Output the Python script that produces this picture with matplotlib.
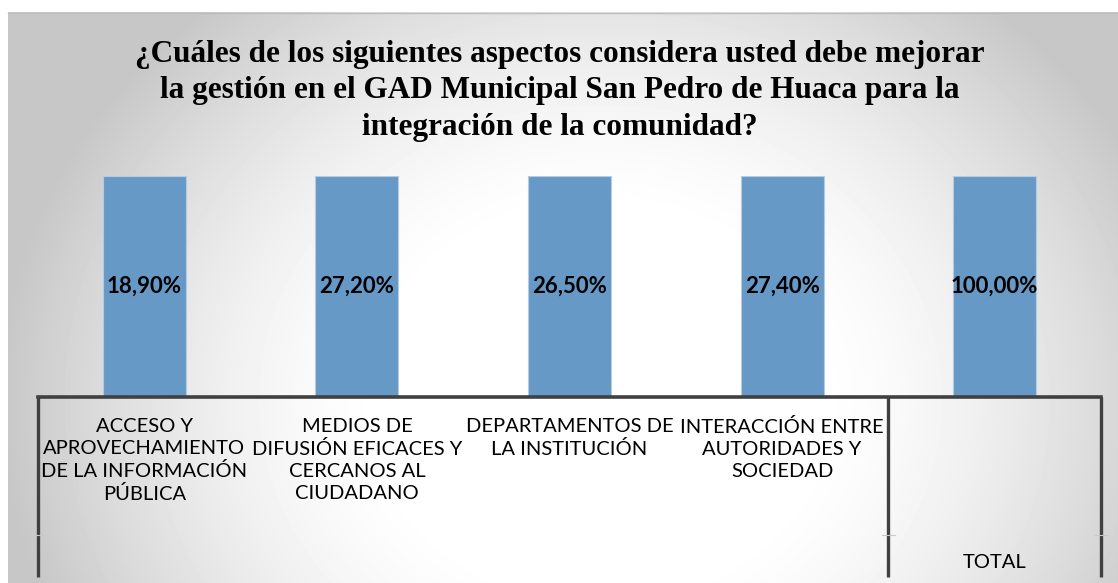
import numpy as np
import matplotlib.pyplot as plt
import matplotlib.transforms as mtransforms

# data
categories = ['ACCESO Y\nAPROVECHAMIENTO\nDE LA INFORMACIÓN\nPÚBLICA',
              'MEDIOS DE\nDIFUSIÓN EFICACES Y\nCERCANOS AL\nCIUDADANO',
              'DEPARTAMENTOS DE\nLA INSTITUCIÓN',
              'INTERACCIÓN ENTRE\nAUTORIDADES Y\nSOCIEDAD',
              '']
groups = ['', 'TOTAL']          # outer level of the category axis
group_sizes = [4, 1]
values = [18.9, 27.2, 26.5, 27.4, 100.0]

title = ('¿Cuáles de los siguientes aspectos considera usted debe mejorar\n'
         'la gestión en el GAD Municipal San Pedro de Huaca para la\n'
         'integración de la comunidad?')

W, H = 1118, 583
BAR = '#6799c7'

def fx(px):
    return px / W

def fy(py):
    return 1 - py / H

fig = plt.figure(figsize=(W / 100, H / 100), dpi=100)

# chart area background: soft radial grey gradient, white in the middle
bg = fig.add_axes([0, 0, 1, 1])
bg.set_xlim(0, W)
bg.set_ylim(H, 0)
bg.axis('off')
yy, xx = np.mgrid[12:H, 8:W]
r = np.hypot((xx - 600) / 600, (yy - 400) / 520)
t = np.clip((r - 0.35) / 0.65, 0, 1) ** 1.5
shade = 1 - 0.22 * t
bg.imshow(shade, cmap='gray', vmin=0, vmax=1, extent=(8, W, H, 12),
          aspect='auto', interpolation='bilinear')
bg.plot([8, W], [12.5, 12.5], color='#bdbdbd', lw=1)

fig.text(fx(560), fy(91), title, ha='center', va='center',
         family='Liberation Serif', weight='bold', fontsize=22.5,
         linespacing=1.33)

left, right, top, bottom = 38, 1101, 176, 397
ax = fig.add_axes([fx(left), fy(bottom), fx(right - left), (bottom - top) / H])
ax.patch.set_alpha(0)

# 100% stacked column with one series: every column is full height
x = np.arange(len(values))
shares = [v / v * 100 for v in values]
ax.bar(x, shares, width=0.39, color=BAR, edgecolor='#b3cbe3', linewidth=0.8)
for xi, v in zip(x, values):
    lab = f'{v:.2f}%'.replace('.', ',')
    ax.text(xi, 50, lab, ha='center', va='center', family='Lato',
            weight='bold', fontsize=16, color='black')

ax.set_xlim(-0.5, len(values) - 0.5)
ax.set_ylim(0, 100)
ax.set_yticks([])
for s in ['top', 'left', 'right']:
    ax.spines[s].set_visible(False)
ax.spines['bottom'].set_color('#404040')
ax.spines['bottom'].set_linewidth(2.6)
ax.set_xticks(x)
ax.set_xticklabels(categories, family='Lato', fontsize=14.5,
                   linespacing=1.35, multialignment='center')
ax.tick_params(axis='x', length=0, pad=15)

# outer level of the category axis
trans = mtransforms.blended_transform_factory(ax.transData, ax.transAxes)
depth = -(577 - bottom) / (bottom - top)
split = -(535 - bottom) / (bottom - top)
edges = np.concatenate([[0], np.cumsum(group_sizes)]) - 0.5
for e in edges:
    ax.plot([e, e], [0, depth], transform=trans, color='#404040', lw=2.4,
            clip_on=False, solid_capstyle='butt')
    ax.plot([e - 0.03, e + 0.03], [split, split], transform=trans,
            color='#c8c8c8', lw=0.8, clip_on=False)
for g, a, b in zip(groups, edges[:-1], edges[1:]):
    ax.text((a + b) / 2, -(563 - bottom) / (bottom - top), g, transform=trans,
            ha='center', va='center', family='Lato', fontsize=14.5)

fig.savefig('out.png', dpi=100)
